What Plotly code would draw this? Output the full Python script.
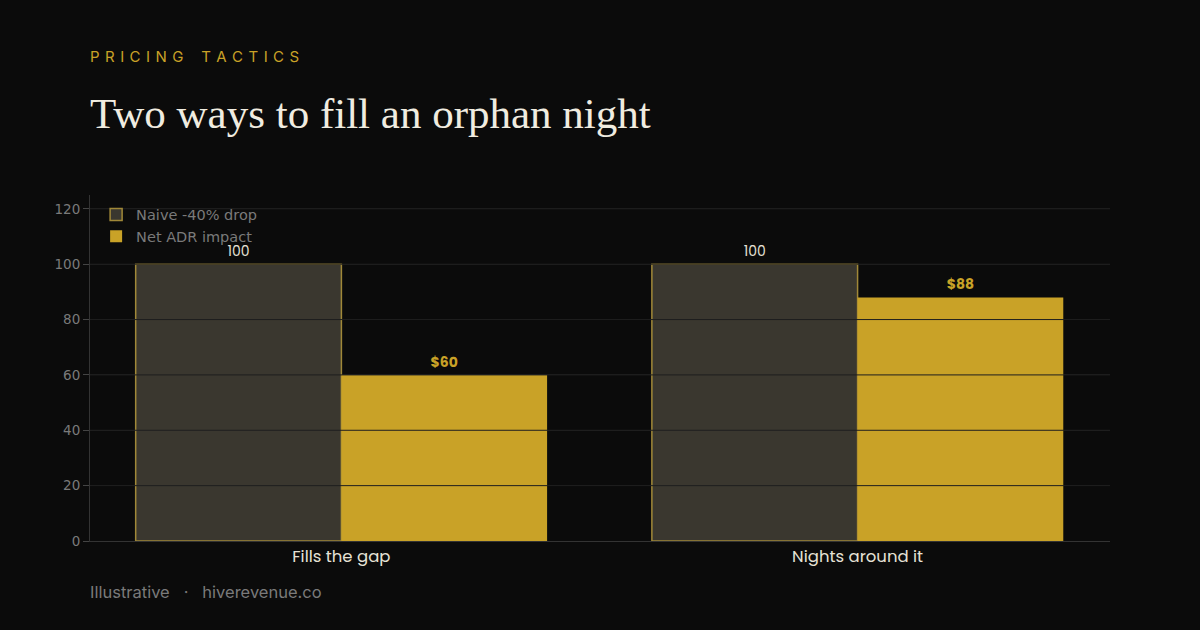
import plotly.graph_objects as go

categories = ["Fills the gap", "Nights around it"]
naive_values = [100, 100]
net_values = [60, 88]
net_labels = ["$60", "$88"]
y_ticks = [0, 20, 40, 60, 80, 100, 120]

BG = "#0b0b0b"
GOLD = "#c9a227"
DARK = "#3a372f"
GRID = "#1e1e1e"
MUTED = "#7a7a7a"

fig = go.Figure()
fig.add_trace(go.Bar(
    x=categories, y=naive_values, name="Naive -40% drop",
    marker=dict(color=DARK, line=dict(color="#a08838", width=1.5)),
    text=[str(v) for v in naive_values], textposition="outside",
    textfont=dict(family="Poppins, Inter, sans-serif", size=14, color="#e6e2d6"),
    cliponaxis=False,
))
fig.add_trace(go.Bar(
    x=categories, y=net_values, name="Net ADR impact",
    marker=dict(color=GOLD, line=dict(width=0)),
    text=net_labels, textposition="outside",
    textfont=dict(family="Poppins, Inter, sans-serif", size=14, color=GOLD, weight="bold"),
    cliponaxis=False,
))

shapes = []
for t in y_ticks[1:]:
    shapes.append(dict(type="line", xref="paper", yref="y", x0=0, x1=1, y0=t, y1=t,
                       line=dict(color=GRID, width=1), layer="above"))

sp = "\u2009\u2009"
subtitle = sp.join("PRICING") + "\u2003\u2009" + sp.join("TACTICS")

fig.update_layout(
    width=1200, height=630,
    paper_bgcolor=BG, plot_bgcolor=BG,
    margin=dict(l=90, r=90, t=195, b=89),
    barmode="group", bargap=0.203, bargroupgap=0,
    showlegend=True,
    legend=dict(x=0.006, y=0.99, xanchor="left", yanchor="top",
                bgcolor="rgba(0,0,0,0)",
                font=dict(family="DejaVu Sans", size=14.5, color=MUTED),
                tracegroupgap=4, itemwidth=30),
    xaxis=dict(range=[-0.487, 1.489], showgrid=False, showline=True, linecolor="#333333",
               linewidth=1, ticks="", tickfont=dict(family="Poppins, Inter, sans-serif", size=16.5, color="#e6e2d6"),
               fixedrange=True),
    yaxis=dict(range=[0, 125], tickvals=y_ticks, showgrid=True, gridcolor=GRID,
               showline=True, linecolor="#333333", linewidth=1, ticks="outside",
               ticklen=6, tickcolor="#444444", zeroline=False,
               tickfont=dict(family="DejaVu Sans", size=13.5, color=MUTED)),
    shapes=shapes,
    annotations=[
        dict(text=subtitle,
             xref="paper", yref="paper", x=0, y=1, xshift=-2, yshift=0,
             xanchor="left", yanchor="middle", showarrow=False,
             font=dict(family="Inter, sans-serif", size=15, color="#c9a227"),
             ),
        dict(text="Two ways to fill an orphan night", xref="paper", yref="paper",
             x=0, y=1, xshift=-2, xanchor="left", yanchor="middle", showarrow=False,
             font=dict(family="Liberation Serif, serif", size=43, color="#f0ece0")),
        dict(text="Illustrative   \u00b7   hiverevenue.co", xref="paper", yref="paper",
             x=0, y=0, xshift=-2, xanchor="left", yanchor="middle", showarrow=False,
             font=dict(family="Inter, sans-serif", size=16.5, color=MUTED)),
    ],
)
plot_h = 630 - 195 - 89
fig.layout.annotations[0].y = 1 + (195 - 57) / plot_h
fig.layout.annotations[1].y = 1 + (195 - 113) / plot_h
fig.layout.annotations[2].y = -(592 - 541) / plot_h

fig.write_html("out.html")
